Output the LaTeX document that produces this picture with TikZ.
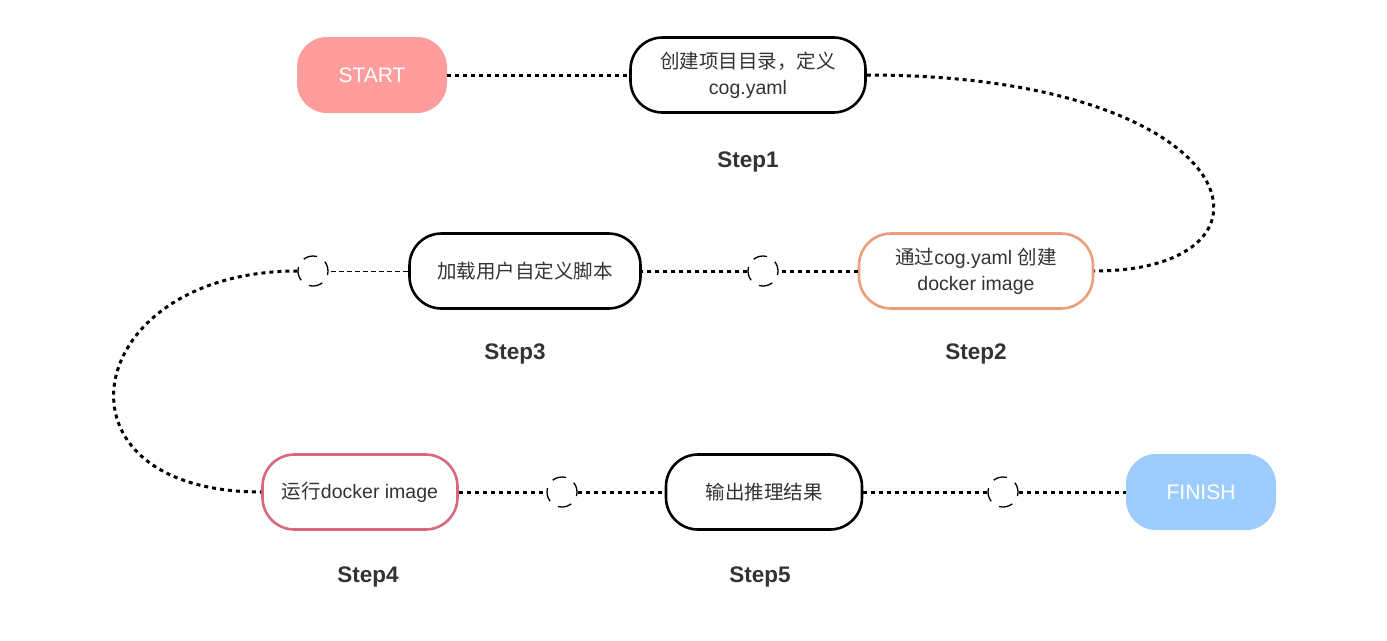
\documentclass[tikz,border=0pt]{standalone}
\usepackage{fontspec}
\setmainfont{Liberation Sans}
\newfontfamily\cjk{Noto Sans CJK SC}
\definecolor{startc}{HTML}{FF9D9D}
\definecolor{finishc}{HTML}{9DCDFF}
\definecolor{orangec}{HTML}{E89F7A}
\definecolor{pinkc}{HTML}{D9687F}
\definecolor{txt}{HTML}{333333}
\begin{document}
\begin{tikzpicture}[x=1pt,y=-1pt,
  stepbox/.style={draw=black,line width=2.6pt,rounded corners=32pt,minimum height=75pt,
    align=center,text=txt,font=\fontsize{19.5}{26}\selectfont,inner sep=0pt},
  termbox/.style={rounded corners=30pt,minimum height=76pt,minimum width=150pt,
    text=white,font=\fontsize{21}{24}\selectfont},
  steplabel/.style={text=txt,font=\fontsize{22.5}{26}\selectfont\bfseries},
  dotline/.style={line width=3pt,dash pattern=on 4pt off 4pt},
  thinline/.style={line width=1pt,dash pattern=on 5pt off 3pt},
  ring/.style={circle,draw=black,line width=1.3pt,dash pattern=on 14pt off 9.5pt,dash phase=4pt,minimum size=30pt,inner sep=0pt}]
\useasboundingbox (0,0) rectangle (1387,640);
\fill[white] (0,0) rectangle (1387,640);

\node[termbox,fill=startc] (start) at (372,75) {START};
\node[stepbox,minimum width=235pt] (s1) at (748,75) {{\cjk 创建项目目录，定义}\\cog.yaml};
\node[stepbox,draw=orangec,minimum width=234pt] (s2) at (976,271) {{\cjk 通过}cog.yaml {\cjk 创建}\\docker image};
\node[stepbox,minimum width=231pt] (s3) at (525,271) {\cjk 加载用户自定义脚本};
\node[stepbox,draw=pinkc,minimum width=195pt] (s4) at (360,492) {{\cjk 运行}docker image};
\node[stepbox,minimum width=196pt] (s5) at (764,492) {\cjk 输出推理结果};
\node[termbox,fill=finishc] (finish) at (1201,492) {FINISH};

\node[ring] (c1) at (763,271) {};
\node[ring] (c2) at (313,271) {};
\node[ring] (c3) at (562,492) {};
\node[ring] (c4) at (1003,492) {};

\node[steplabel] (l1) at (748,162) {Step1};
\node[steplabel] (l2) at (976,354) {Step2};
\node[steplabel] (l3) at (515,354) {Step3};
\node[steplabel] (l4) at (368,577) {Step4};
\node[steplabel] (l5) at (760,577) {Step5};

\draw[dotline] (start.east) -- (s1.west);
\draw[dotline] (s1.east) .. controls (1250,75) and (1300,271) .. (s2.east);
\draw[dotline] (s2.west) -- (c1.east);
\draw[dotline] (c1.west) -- (s3.east);
\draw[thinline] (s3.west) -- (c2.east);
\draw[dotline] (c2.west) .. controls (80,271) and (40,492) .. (s4.west);
\draw[dotline] (s4.east) -- (c3.west);
\draw[dotline] (c3.east) -- (s5.west);
\draw[dotline] (s5.east) -- (c4.west);
\draw[dotline] (c4.east) -- (finish.west);
\end{tikzpicture}
\end{document}
